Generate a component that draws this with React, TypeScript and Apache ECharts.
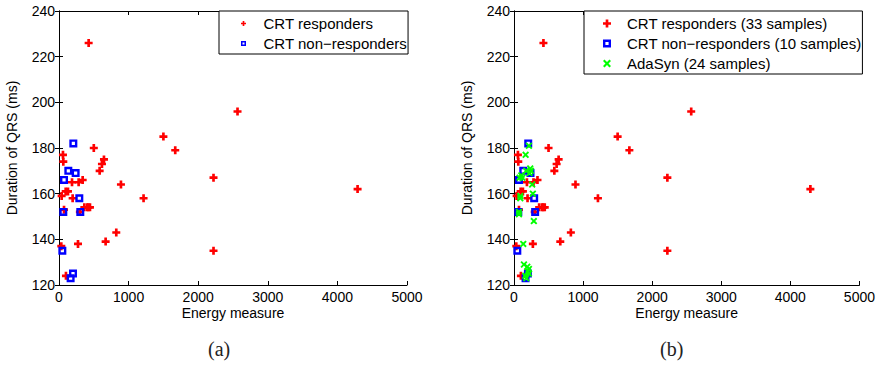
import React, { useEffect, useRef } from "react";
import * as echarts from "echarts";

// CRT responders (33 samples)
const respondersEnergy = [426, 2565, 1500, 500, 1670, 57, 62, 646, 617, 584, 2220, 890, 187, 282, 340, 96, 129, 38, 196, 1215, 364, 421, 445, 405, 72, 300, 823, 670, 273, 33, 2220, 100, 4290];
const respondersQRS = [226, 196, 185, 180, 179, 177, 174, 175, 173, 170, 167, 164, 165, 165, 166, 161, 161, 159, 158, 158, 154, 154, 154, 154, 153, 152, 143, 139, 138, 137, 135, 124, 162];

// CRT non-responders (10 samples)
const nonRespEnergy = [206, 134, 239, 72, 292, 62, 306, 48, 201, 167];
const nonRespQRS = [182, 170, 169, 166, 158, 152, 152, 135, 125, 123];

// AdaSyn synthetic samples (24 samples)
const adasynEnergy = [216, 168, 235, 177, 225, 105, 81, 120, 263, 273, 91, 91, 72, 72, 287, 134, 144, 192, 216, 201, 216, 163, 177, 245];
const adasynQRS = [181, 177, 171, 170, 169, 168, 167, 167, 164, 160, 159, 158, 152, 151, 148, 138, 129, 128, 127, 126, 125, 124, 123, 170];

const xTicks = { min: 0, max: 5000, interval: 1000 };
const yTicks = { min: 120, max: 240, interval: 20 };

const namesA = ["CRT responders", "CRT non\u2212responders"];
const namesB = ["CRT responders (33 samples)", "CRT non\u2212responders (10 samples)", "AdaSyn (24 samples)"];
const captions = ["(a)", "(b)"];

const PLUS = "path://M3,0H6V3H9V6H6V9H3V6H0V3H3Z";
const SQUARE = "path://M0,0H10V10H0Z M3,3V7H7V3Z";
const CROSS = "path://M0,1.5L1.5,0L4,2.5L6.5,0L8,1.5L5.5,4L8,6.5L6.5,8L4,5.5L1.5,8L0,6.5L2.5,4Z";

const FONT = "'Liberation Sans', Arial, Helvetica, sans-serif";

const zip = (xs: number[], ys: number[]) => xs.map((x, i) => [x, ys[i]]);

export default function App() {
  const ref = useRef<HTMLDivElement>(null);
  useEffect(() => {
    if (!ref.current) return;
    const chart = echarts.init(ref.current, undefined, { renderer: "svg" });
    const grids = [
      { left: 59, top: 11, width: 348, height: 274 },
      { left: 514, top: 11, width: 348, height: 274 },
    ];
    const baseX = (g: number, top: boolean) => ({
      type: "value",
      gridIndex: g,
      position: top ? "top" : "bottom",
      ...xTicks,
      axisLine: { show: true, lineStyle: { color: "#000", width: 1 } },
      axisTick: { show: true, inside: true, length: 4, lineStyle: { color: "#000" } },
      splitLine: { show: false },
      axisLabel: top
        ? { show: false }
        : { color: "#000", fontSize: 14, fontFamily: FONT, margin: 5, formatter: (v: number) => String(v) },
      name: top ? "" : "Energy measure",
      nameLocation: "middle",
      nameGap: 21,
      nameMoveOverlap: false,
      nameTextStyle: { color: "#000", fontSize: 14, fontFamily: FONT },
    });
    const baseY = (g: number, right: boolean) => ({
      type: "value",
      gridIndex: g,
      position: right ? "right" : "left",
      ...yTicks,
      axisLine: { show: true, lineStyle: { color: "#000", width: 1 } },
      axisTick: { show: true, inside: true, length: 4, lineStyle: { color: "#000" } },
      splitLine: { show: false },
      axisLabel: right
        ? { show: false }
        : { color: "#000", fontSize: 14, fontFamily: FONT, margin: 4, formatter: (v: number) => String(v) },
      name: right ? "" : "Duration of QRS (ms)",
      nameLocation: "middle",
      nameGap: 40,
      nameMoveOverlap: false,
      nameTextStyle: { color: "#000", fontSize: 14, fontFamily: FONT },
    });
    const mk = (name: string, g: number, data: number[][], symbol: string, size: number, color: string) => ({
      type: "scatter",
      name,
      xAxisIndex: g * 2,
      yAxisIndex: g * 2,
      data,
      symbol,
      symbolSize: size,
      itemStyle: { color, opacity: 1 },
      emphasis: { disabled: true },
    });
    const legendText = { fontSize: 15, fontFamily: FONT, color: "#000" };
    chart.setOption({
      animation: false,
      backgroundColor: "#fff",
      grid: grids,
      xAxis: [baseX(0, false), baseX(0, true), baseX(1, false), baseX(1, true)],
      yAxis: [baseY(0, false), baseY(0, true), baseY(1, false), baseY(1, true)],
      legend: [
        {
          left: 219,
          top: 11,
          orient: "vertical",
          padding: [5, 1, 3, 22],
          itemWidth: 30,
          itemHeight: 5,
          itemGap: 5,
          borderColor: "#000",
          borderWidth: 1,
          backgroundColor: "#fff",
          selectedMode: false,
          textStyle: legendText,
          data: [
            { name: namesA[0], icon: PLUS },
            { name: namesA[1], icon: SQUARE },
          ],
        },
        {
          left: 584,
          top: 11,
          orient: "vertical",
          padding: [5, 1, 3, 19],
          itemWidth: 30,
          itemHeight: 8,
          itemGap: 5,
          borderColor: "#000",
          borderWidth: 1,
          backgroundColor: "#fff",
          selectedMode: false,
          textStyle: legendText,
          data: [
            { name: namesB[0], icon: PLUS },
            { name: namesB[1], icon: SQUARE },
            { name: namesB[2], icon: CROSS },
          ],
        },
      ],
      series: [
        mk(namesA[0], 0, zip(respondersEnergy, respondersQRS), PLUS, 8, "#ff0000"),
        mk(namesA[1], 0, zip(nonRespEnergy, nonRespQRS), SQUARE, 8, "#0000ff"),
        mk(namesB[0], 1, zip(respondersEnergy, respondersQRS), PLUS, 8, "#ff0000"),
        mk(namesB[1], 1, zip(nonRespEnergy, nonRespQRS), SQUARE, 8, "#0000ff"),
        mk(namesB[2], 1, zip(adasynEnergy, adasynQRS), CROSS, 7, "#00ff00"),
      ],
      graphic: [
        {
          type: "text",
          left: 208,
          top: 339,
          style: { text: captions[0], fontSize: 20, fontFamily: "'Liberation Serif', serif", fill: "#222" },
        },
        {
          type: "text",
          left: 660,
          top: 339,
          style: { text: captions[1], fontSize: 20, fontFamily: "'Liberation Serif', serif", fill: "#222" },
        },
      ],
    });
    return () => chart.dispose();
  }, []);
  return (
    <div
      ref={ref}
      style={{ position: "absolute", left: 0, top: 0, width: 878, height: 365, background: "#fff" }}
    />
  );
}
